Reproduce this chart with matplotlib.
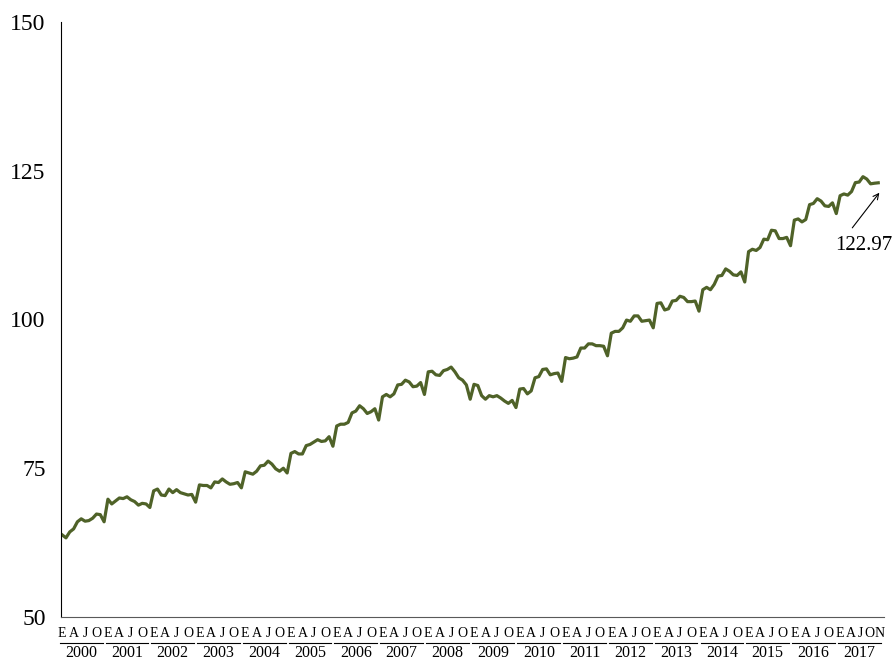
import numpy as np
import matplotlib
matplotlib.use('Agg')
import matplotlib.pyplot as plt

plt.rcParams['font.family'] = ['Liberation Serif', 'DejaVu Serif']

# monthly index, Jan 2000 - Nov 2017 (one row per year)
indice = [
    63.8, 63.3, 64.3, 64.8, 66.0, 66.5, 66.1, 66.2, 66.6, 67.3, 67.2, 66.0,   # 2000
    69.8, 69.0, 69.5, 70.0, 69.9, 70.2, 69.7, 69.4, 68.8, 69.1, 69.0, 68.4,   # 2001
    71.2, 71.5, 70.5, 70.4, 71.5, 70.9, 71.4, 70.9, 70.7, 70.5, 70.6, 69.3,   # 2002
    72.2, 72.1, 72.1, 71.7, 72.7, 72.6, 73.2, 72.7, 72.3, 72.4, 72.6, 71.7,   # 2003
    74.4, 74.2, 74.0, 74.5, 75.4, 75.5, 76.2, 75.7, 74.9, 74.5, 75.0, 74.2,   # 2004
    77.5, 77.8, 77.4, 77.4, 78.8, 79.0, 79.4, 79.8, 79.5, 79.6, 80.3, 78.7,   # 2005
    82.1, 82.4, 82.4, 82.7, 84.3, 84.6, 85.5, 85.0, 84.2, 84.5, 85.0, 83.1,   # 2006
    87.0, 87.4, 87.0, 87.5, 89.0, 89.1, 89.8, 89.5, 88.7, 88.8, 89.4, 87.4,   # 2007
    91.2, 91.3, 90.7, 90.6, 91.4, 91.6, 92.0, 91.2, 90.2, 89.8, 89.0, 86.6,   # 2008
    89.1, 88.9, 87.2, 86.6, 87.2, 87.0, 87.2, 86.8, 86.3, 85.9, 86.4, 85.2,   # 2009
    88.3, 88.4, 87.5, 88.0, 90.2, 90.4, 91.6, 91.7, 90.7, 90.9, 91.0, 89.6,   # 2010
    93.6, 93.4, 93.5, 93.7, 95.2, 95.2, 95.9, 95.9, 95.6, 95.6, 95.5, 93.9,   # 2011
    97.7, 98.0, 98.0, 98.6, 99.9, 99.7, 100.6, 100.6, 99.7, 99.8, 99.9, 98.6, # 2012
    102.7, 102.8, 101.6, 101.8, 103.1, 103.2, 103.9, 103.7, 103.0, 103.0, 103.1, 101.4,  # 2013
    105.0, 105.4, 105.0, 105.9, 107.3, 107.4, 108.5, 108.1, 107.5, 107.4, 108.0, 106.3,  # 2014
    111.4, 111.8, 111.6, 112.1, 113.5, 113.4, 115.0, 114.9, 113.6, 113.6, 113.8, 112.4,  # 2015
    116.7, 116.9, 116.4, 116.8, 119.3, 119.5, 120.3, 119.9, 119.1, 119.0, 119.6, 117.8,  # 2016
    120.8, 121.1, 120.9, 121.5, 123.0, 123.1, 124.0, 123.6, 122.8, 122.9, 122.97,         # 2017
]

years = list(range(2000, 2018))
month_labels = ['E', 'A', 'J', 'O']
month_pos = [0, 3, 6, 9]
# last year has one more letter, squeezed in
month_labels_last = ['E', 'A', 'J', 'O', 'N']
month_pos_last = [0, 2.7, 5.3, 7.8, 10.4]
last_label = '122.97'

x = np.arange(len(indice))

fig = plt.figure(figsize=(8.92, 6.62), dpi=100)
ax = fig.add_axes([0.0684, 0.068, 0.923, 0.8988])

ax.plot(x, indice, color='#4F6228', linewidth=2.3)

ax.set_ylim(50, 150)
ax.set_yticks([50, 75, 100, 125, 150])
ax.set_xlim(-0.3, 215.6)
ax.set_xticks([])
ax.tick_params(axis='y', length=0, pad=11, labelsize=17)

for s in ['top', 'right']:
    ax.spines[s].set_visible(False)
ax.spines['left'].set_color('black')
ax.spines['bottom'].set_color('#595959')

# month letters, underline and year under each group
tr = ax.get_xaxis_transform()
for k, yr in enumerate(years):
    start = 12 * k
    if yr == years[-1]:
        labs, pos = month_labels_last, month_pos_last
    else:
        labs, pos = month_labels, month_pos
    for lab, m in zip(labs, pos):
        ax.text(start + m, -0.028, lab, transform=tr, ha='center', va='center',
                fontsize=10, clip_on=False)
    ax.plot([start - 0.6, start + 10.6], [-0.043, -0.043], transform=tr,
            color='black', linewidth=0.8, clip_on=False)
    ax.text(start + 5.0, -0.06, str(yr), transform=tr, ha='center', va='center',
            fontsize=11.5, clip_on=False)

# annotate the last value
ax.annotate('', xy=(x[-1] + 0.3, 121.3), xytext=(x[-1] - 6.8, 115.4),
            arrowprops=dict(arrowstyle='->', color='black', lw=0.8,
                            shrinkA=0, shrinkB=0))
ax.text(x[-1] - 3.9, 112.5, last_label, ha='center', va='center', fontsize=15)

fig.savefig('out.png', dpi=100)
